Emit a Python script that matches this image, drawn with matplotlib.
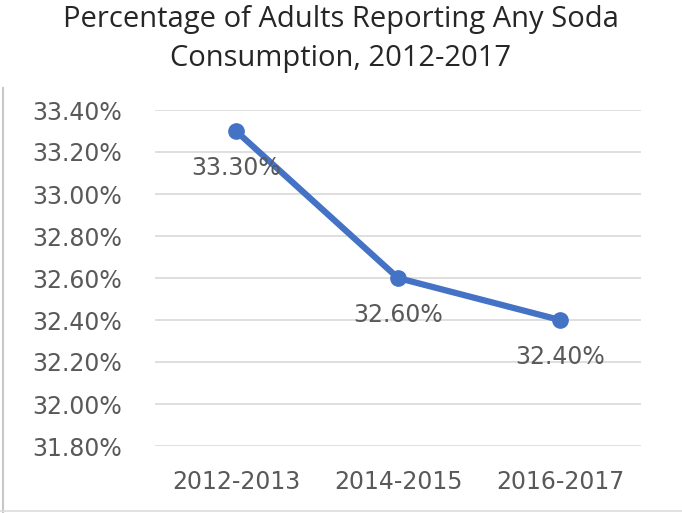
import matplotlib
matplotlib.use("Agg")
import matplotlib.pyplot as plt
from matplotlib.lines import Line2D

title = "Percentage of Adults Reporting Any Soda\nConsumption, 2012-2017"
categories = ["2012-2013", "2014-2015", "2016-2017"]
values = [33.30, 32.60, 32.40]
yticks = [31.8, 32.0, 32.2, 32.4, 32.6, 32.8, 33.0, 33.2, 33.4]

W, H = 682, 513
fig = plt.figure(figsize=(W / 100, H / 100), dpi=100)
fig.patch.set_facecolor("white")

ax = fig.add_axes([155 / W, 67 / H, 486 / W, 336 / H])
x = list(range(len(categories)))
color = "#4472C4"
ax.plot(x, values, color=color, lw=4.5, marker="o", ms=11, solid_capstyle="round", zorder=3)
for xi, v in zip(x, values):
    ax.annotate(f"{v:.2f}%", (xi, v), xytext=(0, -37), textcoords="offset pixels",
                ha="center", va="center", fontsize=17, color="#595959",
                family="DejaVu Sans", zorder=4)

ax.set_xlim(-0.5, len(categories) - 0.5)
ax.set_ylim(yticks[0], yticks[-1])
ax.set_yticks(yticks)
ax.set_yticklabels([f"{t:.2f}%" for t in yticks], fontsize=17, color="#595959", family="DejaVu Sans")
ax.set_xticks(x)
ax.set_xticklabels(categories, fontsize=17, color="#595959", family="DejaVu Sans")
ax.tick_params(length=0)
ax.tick_params(axis="y", pad=24)
ax.tick_params(axis="x", pad=17)
ax.grid(axis="y", color="#D9D9D9", lw=1.2)
for s in ax.spines.values():
    s.set_visible(False)

fig.text(341 / W, 1 - 39 / H, title, ha="center", va="center", fontsize=21,
         family="Open Sans", color="#262626", linespacing=1.45)

fig.add_artist(Line2D([3 / W, 3 / W], [0, 1 - 88 / H], color="#C8C8C8", lw=1.5, transform=fig.transFigure))
fig.add_artist(Line2D([0, 1], [2 / H, 2 / H], color="#DDDDDD", lw=1.2, transform=fig.transFigure))

fig.savefig("out.png", dpi=100)
